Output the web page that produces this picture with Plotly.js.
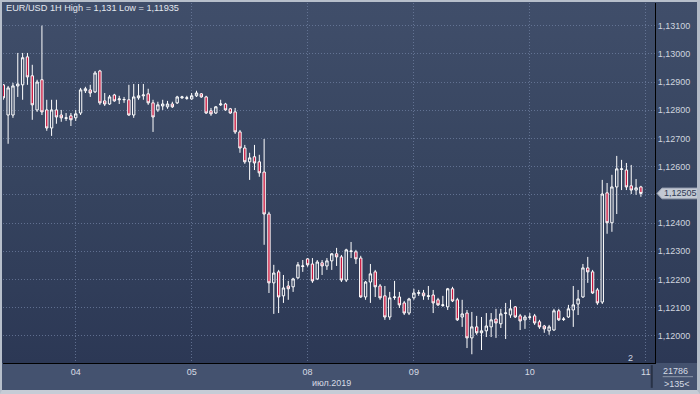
<!DOCTYPE html>
<html>
<head>
<meta charset="utf-8">
<script src="https://cdn.plot.ly/plotly-3.0.1.min.js"></script>
<style>
  html, body { margin:0; padding:0; background:#44526f; }
  #wrap { position:relative; width:700px; height:394px; overflow:hidden; background:#44526f; }
  #grad { position:absolute; left:0; top:0; width:700px; height:363px;
          background:linear-gradient(to bottom, #404e6a 0%, #36445f 50%, #2c3855 100%); }
  #chart { position:absolute; left:0; top:0; width:700px; height:394px; }
  #frame { position:absolute; left:0; top:0; width:700px; height:394px; box-sizing:border-box;
           border-left:2px solid #b7bfcb; border-top:2px solid #b7bfcb;
           border-right:3px solid #b3bbc7; border-bottom:4px solid #c6ccd6; pointer-events:none; }
</style>
</head>
<body>
<div id="wrap">
  <div id="grad"></div>
  <div id="chart"></div>
  <div id="frame"></div>
</div>
<script>
// EUR/USD 1H candles, 03 Jul 09:00 .. 10 Jul 23:00 (weekend skipped)
const openP = [
 1.12890,1.12783,1.12783,1.12886,1.12890,1.12989,1.12922,1.12801,1.12908,1.12801,
 1.12737,1.12801,1.12783,1.12771,1.12780,1.12773,1.12790,1.12869,1.12872,1.12865,
 1.12939,1.12833,1.12822,1.12854,1.12837,1.12837,1.12837,1.12783,1.12844,1.12851,
 1.12858,1.12826,1.12801,1.12815,1.12812,1.12822,1.12826,1.12844,1.12842,1.12840,
 1.12851,1.12858,1.12847,1.12798,1.12790,1.12819,1.12822,1.12805,1.12794,1.12723,
 1.12666,1.12617,1.12635,1.12617,1.12581,1.12432,1.12188,1.12227,1.12142,1.12177,
 1.12174,1.12206,1.12246,1.12273,1.12255,1.12202,1.12259,1.12248,1.12266,1.12291,
 1.12280,1.12198,1.12299,1.12298,1.12276,1.12138,1.12191,1.12227,1.12177,1.12142,
 1.12067,1.12136,1.12138,1.12117,1.12081,1.12135,1.12151,1.12152,1.12140,1.12145,
 1.12128,1.12108,1.12103,1.12167,1.12128,1.12067,1.12081,1.11993,1.12032,1.12011,
 1.12018,1.12032,1.12060,1.12043,1.12080,1.12074,1.12103,1.12071,1.12057,1.12066,
 1.12071,1.12050,1.12035,1.12018,1.12021,1.12089,1.12058,1.12067,1.12092,1.12113,
 1.12138,1.12241,1.12227,1.12163,1.12120,1.12507,1.12401,1.12528,1.12590,1.12588,
 1.12532,1.12517,1.12528
];
const highP = [
 1.12893,1.12886,1.12897,1.13003,1.13003,1.13003,1.12961,1.12908,1.13100,1.12837,
 1.12837,1.12837,1.12801,1.12790,1.12790,1.12801,1.12879,1.12883,1.12890,1.12939,
 1.12943,1.12861,1.12854,1.12858,1.12851,1.12847,1.12890,1.12893,1.12893,1.12893,
 1.12876,1.12837,1.12830,1.12837,1.12833,1.12830,1.12851,1.12851,1.12851,1.12861,
 1.12869,1.12861,1.12851,1.12808,1.12815,1.12837,1.12826,1.12808,1.12808,1.12730,
 1.12677,1.12649,1.12677,1.12642,1.12698,1.12440,1.12252,1.12234,1.12216,1.12195,
 1.12206,1.12262,1.12269,1.12276,1.12276,1.12269,1.12269,1.12276,1.12294,1.12312,
 1.12287,1.12309,1.12333,1.12305,1.12284,1.12195,1.12255,1.12234,1.12184,1.12177,
 1.12156,1.12195,1.12156,1.12124,1.12135,1.12167,1.12163,1.12163,1.12177,1.12163,
 1.12135,1.12142,1.12170,1.12174,1.12135,1.12128,1.12092,1.12085,1.12071,1.12067,
 1.12081,1.12081,1.12096,1.12096,1.12117,1.12128,1.12106,1.12078,1.12074,1.12081,
 1.12078,1.12057,1.12039,1.12039,1.12096,1.12096,1.12067,1.12110,1.12177,1.12163,
 1.12255,1.12280,1.12234,1.12170,1.12553,1.12542,1.12571,1.12638,1.12624,1.12613,
 1.12606,1.12556,1.12532
];
const lowP = [
 1.12837,1.12681,1.12773,1.12847,1.12837,1.12890,1.12766,1.12794,1.12783,1.12727,
 1.12709,1.12752,1.12759,1.12762,1.12744,1.12762,1.12783,1.12861,1.12847,1.12861,
 1.12819,1.12815,1.12819,1.12830,1.12822,1.12826,1.12780,1.12773,1.12837,1.12837,
 1.12819,1.12723,1.12794,1.12801,1.12805,1.12808,1.12822,1.12840,1.12837,1.12837,
 1.12847,1.12844,1.12787,1.12780,1.12787,1.12815,1.12798,1.12787,1.12716,1.12649,
 1.12610,1.12553,1.12588,1.12564,1.12323,1.12152,1.12078,1.12081,1.12117,1.12128,
 1.12156,1.12202,1.12227,1.12245,1.12188,1.12198,1.12216,1.12234,1.12234,1.12248,
 1.12191,1.12191,1.12276,1.12255,1.12135,1.12128,1.12117,1.12138,1.12128,1.12057,
 1.12057,1.12128,1.12099,1.12074,1.12074,1.12128,1.12142,1.12128,1.12128,1.12081,
 1.12106,1.12103,1.12092,1.12120,1.12053,1.12032,1.11957,1.11935,1.12004,1.11950,
 1.11996,1.11996,1.11993,1.12028,1.11989,1.12064,1.12064,1.12021,1.12025,1.12057,
 1.12039,1.12025,1.12011,1.12004,1.12018,1.12053,1.12053,1.12064,1.12032,1.12074,
 1.12135,1.12188,1.12149,1.12110,1.12113,1.12362,1.12369,1.12432,1.12517,1.12517,
 1.12503,1.12500,1.12493
];
const closeP = [
 1.12844,1.12879,1.12886,1.12893,1.12986,1.12918,1.12819,1.12900,1.12794,1.12737,
 1.12801,1.12776,1.12773,1.12773,1.12766,1.12787,1.12872,1.12876,1.12861,1.12932,
 1.12826,1.12822,1.12847,1.12833,1.12840,1.12838,1.12783,1.12847,1.12851,1.12854,
 1.12826,1.12776,1.12819,1.12822,1.12822,1.12812,1.12847,1.12847,1.12844,1.12851,
 1.12861,1.12847,1.12790,1.12787,1.12812,1.12822,1.12801,1.12790,1.12723,1.12666,
 1.12617,1.12631,1.12613,1.12578,1.12432,1.12188,1.12223,1.12138,1.12170,1.12167,
 1.12202,1.12252,1.12248,1.12252,1.12195,1.12262,1.12248,1.12266,1.12291,1.12280,
 1.12198,1.12305,1.12301,1.12273,1.12138,1.12191,1.12220,1.12174,1.12135,1.12067,
 1.12135,1.12138,1.12110,1.12081,1.12131,1.12152,1.12153,1.12142,1.12142,1.12117,
 1.12110,1.12110,1.12167,1.12124,1.12057,1.12078,1.11993,1.12032,1.12011,1.12018,
 1.12035,1.12057,1.12046,1.12078,1.12081,1.12096,1.12067,1.12053,1.12067,1.12067,
 1.12046,1.12032,1.12025,1.12032,1.12089,1.12057,1.12060,1.12096,1.12110,1.12131,
 1.12241,1.12227,1.12152,1.12117,1.12503,1.12401,1.12528,1.12592,1.12592,1.12528,
 1.12517,1.12525,1.12505
];

// day boundary ticks (bar index of 00:00) and labels
const dayTickBars = [15, 39, 63, 85, 109, 133];
const dayTickText = ['04', '05', '08', '09', '10', '11'];
const priceTicks = [1.120,1.121,1.122,1.123,1.124,1.125,1.126,1.127,1.128,1.129,1.130,1.131];
const priceTickText = ['1,12000','1,12100','1,12200','1,12300','1,12400','','1,12600','1,12700','1,12800','1,12900','1,13000','1,13100'];

const titleText = 'EUR/USD 1H High = 1,131 Low = 1,11935';
const monthText = 'июл.2019';

const bars = openP.map((_, i) => i);
const lastClose = closeP[closeP.length - 1];
const lastText = lastClose.toFixed(5).replace('.', ',');

const FONT = 'Liberation Sans, Arial, sans-serif';
const GRID = 'rgba(112,128,162,0.75)';

const trace = {
  type: 'candlestick',
  x: bars, open: openP, high: highP, low: lowP, close: closeP,
  increasing: { line: { color: '#ffffff', width: 1 }, fillcolor: 'rgba(0,0,0,0)' },
  decreasing: { line: { color: '#ffffff', width: 1 }, fillcolor: '#c8163e' },
  whiskerwidth: 0,
  hoverinfo: 'skip',
  showlegend: false
};

const layout = {
  width: 700, height: 394,
  margin: { l: 3, r: 45, t: 3, b: 31, pad: 0 },
  paper_bgcolor: 'rgba(0,0,0,0)',
  plot_bgcolor: 'rgba(0,0,0,0)',
  font: { family: FONT, size: 9, color: '#cfd5df' },
  showlegend: false,
  boxgap: 0.3,
  xaxis: {
    range: [-0.06, 134.92],
    tickvals: dayTickBars, ticktext: dayTickText,
    showgrid: true, gridcolor: GRID, griddash: '1px,2px', gridwidth: 1,
    zeroline: false, showline: true, linecolor: '#000000', linewidth: 1,
    ticks: '', tickfont: { family: FONT, size: 9, color: '#d6dbe4' },
    rangeslider: { visible: false }, fixedrange: true
  },
  yaxis: {
    side: 'right',
    range: [1.11904, 1.13180],
    tickvals: priceTicks, ticktext: priceTickText,
    showgrid: true, gridcolor: GRID, griddash: '1px,2px', gridwidth: 1,
    zeroline: false, showline: true, linecolor: '#000000', linewidth: 1,
    ticks: '', tickfont: { family: FONT, size: 9, color: '#cfd5df' },
    fixedrange: true
  },
  shapes: [
    // last-price tag
    { type: 'path', xref: 'paper', yref: 'y', layer: 'above',
      path: 'M 1.0031,' + lastClose +
            ' L 1.0107,' + (lastClose + 0.00019) +
            ' L 1.066,' + (lastClose + 0.00019) +
            ' L 1.066,' + (lastClose - 0.00019) +
            ' L 1.0107,' + (lastClose - 0.00019) + ' Z',
      fillcolor: '#c3c9d3', line: { color: '#9aa3b3', width: 1 } },
    // counter separator
    { type: 'line', xref: 'paper', yref: 'paper', x0: 1.0118, x1: 1.0583, y0: -0.038, y1: -0.038,
      line: { color: '#8c96a8', width: 1 } },
    // small marker bar right of last day label
    { type: 'rect', xref: 'paper', yref: 'paper', x0: 0.9935, x1: 0.9966, y0: -0.006, y1: -0.069,
      fillcolor: '#283247', line: { width: 0 } }
  ],
  annotations: [
    { text: titleText, xref: 'paper', yref: 'paper', x: 0.0015, y: 0.986,
      xanchor: 'left', yanchor: 'middle', showarrow: false,
      font: { family: FONT, size: 9.2, color: '#e3e7ee' } },
    { text: lastText, xref: 'paper', yref: 'y', x: 1.0115, y: lastClose,
      xanchor: 'left', yanchor: 'middle', showarrow: false,
      font: { family: FONT, size: 9, color: '#2f3b54' } },
    { text: monthText, xref: 'paper', yref: 'paper', x: 0.5046, y: -0.0556,
      xanchor: 'center', yanchor: 'middle', showarrow: false,
      font: { family: FONT, size: 9, color: '#d6dbe4' } },
    { text: '21786', xref: 'paper', yref: 'paper', x: 1.0322, y: -0.0214,
      xanchor: 'center', yanchor: 'middle', showarrow: false,
      font: { family: FONT, size: 9, color: '#d6dbe4' } },
    { text: '&gt;135&lt;', xref: 'paper', yref: 'paper', x: 1.0330, y: -0.0583,
      xanchor: 'center', yanchor: 'middle', showarrow: false,
      font: { family: FONT, size: 9, color: '#d6dbe4' } },
    { text: '2', xref: 'paper', yref: 'paper', x: 0.9624, y: 0.0139,
      xanchor: 'center', yanchor: 'middle', showarrow: false,
      font: { family: FONT, size: 9, color: '#d0d6e0' } }
  ]
};

Plotly.newPlot('chart', [trace], layout, { staticPlot: true, displayModeBar: false });
</script>
</body>
</html>
